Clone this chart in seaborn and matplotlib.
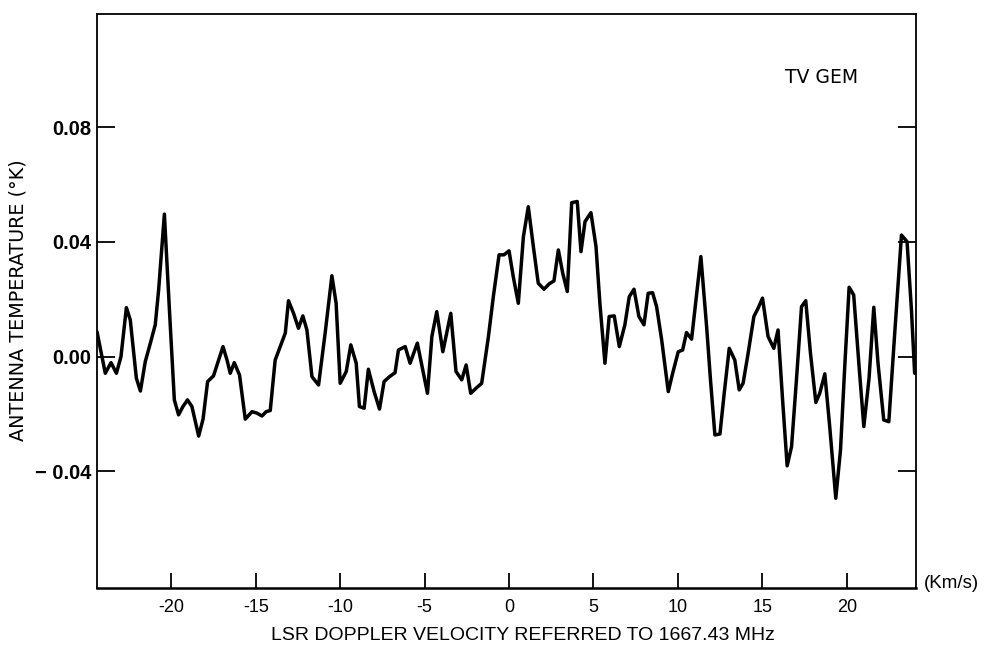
import matplotlib
matplotlib.use("Agg")
import matplotlib.pyplot as plt
import seaborn as sns
import pandas as pd

# LSR Doppler velocity (km/s)
velocity = [
    -24.40, -23.91, -23.57, -23.25, -22.98, -22.66, -22.43, -22.07, -21.83, -21.54,
    -21.24, -20.95, -20.75, -20.41, -20.10, -19.82, -19.57, -19.31, -19.04, -18.78,
    -18.38, -18.12, -17.85, -17.50, -17.20, -16.94, -16.70, -16.51, -16.27, -15.96,
    -15.62, -15.22, -14.93, -14.63, -14.38, -14.14, -13.85, -13.55, -13.25, -13.06,
    -12.76, -12.47, -12.21, -11.97, -11.67, -11.28, -10.89, -10.49, -10.24, -10.00,
    -9.64, -9.37, -9.05, -8.86, -8.58, -8.33, -7.99, -7.67, -7.40, -7.08,
    -6.75, -6.55, -6.15, -5.86, -5.43, -5.11, -4.83, -4.57, -4.28, -3.92,
    -3.45, -3.14, -2.80, -2.54, -2.27, -1.95, -1.62, -1.22, -0.93, -0.59,
    -0.30, 0.00, 0.25, 0.55, 0.85, 1.14, 1.44, 1.73, 2.07, 2.38,
    2.66, 2.92, 3.18, 3.45, 3.71, 4.04, 4.26, 4.50, 4.85, 5.15,
    5.38, 5.68, 5.93, 6.23, 6.53, 6.86, 7.12, 7.40, 7.69, 7.99,
    8.24, 8.50, 8.74, 9.04, 9.43, 9.69, 10.02, 10.28, 10.51, 10.81,
    11.36, 11.70, 11.93, 12.19, 12.49, 12.72, 13.04, 13.37, 13.63, 13.86,
    14.16, 14.50, 14.75, 15.01, 15.34, 15.68, 15.93, 16.20, 16.47, 16.73,
    17.02, 17.32, 17.57, 17.85, 18.17, 18.40, 18.70, 18.99, 19.35, 19.63,
    19.88, 20.14, 20.41, 20.73, 21.01, 21.32, 21.60, 21.85, 22.19, 22.49,
    22.84, 23.24, 23.57, 23.83, 24.02,
]

# Antenna temperature (K)
temperature = [
    0.0087, -0.0058, -0.0021, -0.0058, 0.0000, 0.0171, 0.0128, -0.0075, -0.0120, -0.0017,
    0.0047, 0.0111, 0.0233, 0.0497, 0.0151, -0.0151, -0.0203, -0.0174, -0.0151, -0.0174,
    -0.0277, -0.0218, -0.0087, -0.0067, -0.0012, 0.0035, -0.0012, -0.0058, -0.0021, -0.0064,
    -0.0218, -0.0192, -0.0197, -0.0207, -0.0192, -0.0188, -0.0012, 0.0035, 0.0082, 0.0195,
    0.0151, 0.0099, 0.0142, 0.0093, -0.0070, -0.0099, 0.0082, 0.0282, 0.0186, -0.0093,
    -0.0052, 0.0041, -0.0023, -0.0174, -0.0180, -0.0044, -0.0122, -0.0183, -0.0087, -0.0070,
    -0.0056, 0.0023, 0.0035, -0.0023, 0.0047, -0.0046, -0.0128, 0.0070, 0.0157, 0.0017,
    0.0151, -0.0052, -0.0081, -0.0029, -0.0128, -0.0110, -0.0093, 0.0070, 0.0209, 0.0355,
    0.0355, 0.0369, 0.0279, 0.0186, 0.0418, 0.0523, 0.0384, 0.0256, 0.0235, 0.0254,
    0.0264, 0.0372, 0.0291, 0.0227, 0.0537, 0.0541, 0.0366, 0.0471, 0.0502, 0.0384,
    0.0186, -0.0023, 0.0140, 0.0142, 0.0035, 0.0111, 0.0209, 0.0235, 0.0140, 0.0111,
    0.0221, 0.0223, 0.0174, 0.0058, -0.0122, -0.0058, 0.0017, 0.0023, 0.0084, 0.0061,
    0.0349, 0.0105, -0.0081, -0.0273, -0.0270, -0.0140, 0.0029, -0.0012, -0.0116, -0.0093,
    0.0012, 0.0140, 0.0169, 0.0204, 0.0070, 0.0029, 0.0093, -0.0151, -0.0381, -0.0314,
    -0.0081, 0.0174, 0.0195, 0.0012, -0.0160, -0.0128, -0.0060, -0.0244, -0.0494, -0.0325,
    -0.0035, 0.0242, 0.0215, -0.0035, -0.0244, -0.0075, 0.0172, -0.0023, -0.0221, -0.0227,
    0.0082, 0.0424, 0.0401, 0.0163, -0.0058,
]

x_ticks = [-20, -15, -10, -5, 0, 5, 10, 15, 20]
x_tick_labels = ["-20", "-15", "-10", "-5", "0", "5", "10", "15", "20"]
y_ticks = [-0.04, 0.00, 0.04, 0.08]
y_tick_labels = ["\u2212 0.04", "0.00", "0.04", "0.08"]

sns.set_style("ticks")
plt.rcParams["font.family"] = ["DejaVu Sans"]
plt.rcParams["text.color"] = "black"
plt.rcParams["xtick.color"] = "black"
plt.rcParams["ytick.color"] = "black"

df = pd.DataFrame({"velocity": velocity, "temperature": temperature})

fig = plt.figure(figsize=(9.84, 6.47), dpi=100)
ax = fig.add_axes([97 / 984, 1 - 588 / 647, (916 - 97) / 984, (588 - 14) / 647])

sns.lineplot(data=df, x="velocity", y="temperature", ax=ax, color="black",
             linewidth=2.5, sort=False, estimator=None)

ax.set_xlim(-24.4, 24.1)
ax.set_ylim(-0.0807, 0.1195)

ax.set_xticks(x_ticks)
ax.set_xticklabels(x_tick_labels, fontsize=13, color="black",
                   family=["Liberation Sans Narrow", "Liberation Sans", "DejaVu Sans"])
ax.set_yticks(y_ticks)
ax.set_yticklabels(y_tick_labels, fontsize=14.5, color="black",
                   family=["Liberation Sans", "DejaVu Sans"], fontweight="bold")

ax.tick_params(axis="x", direction="in", length=11, width=1.3, pad=8, colors="black")
ax.tick_params(axis="y", direction="in", length=13, width=1.3, pad=4, colors="black",
               right=True)

for side in ["left", "right", "top"]:
    ax.spines[side].set_linewidth(1.3)
    ax.spines[side].set_color("black")
ax.spines["bottom"].set_linewidth(1.8)
ax.spines["bottom"].set_color("black")

ax.set_xlabel("")
ax.set_ylabel("")

fig.text(18 / 984, 1 - 300 / 647, "ANTENNA TEMPERATURE (°K)", rotation=90,
         ha="center", va="center", fontsize=13.8, color="black", family=["DejaVu Sans"])
fig.text(523 / 984, 1 - 636 / 647, "LSR DOPPLER VELOCITY REFERRED TO 1667.43 MHz",
         ha="center", va="center", fontsize=14, color="black",
         family=["Liberation Sans Narrow", "Liberation Sans", "DejaVu Sans"])
fig.text(924 / 984, 1 - 584 / 647, "(Km/s)", ha="left", va="center", fontsize=13.5,
         color="black", family=["Liberation Sans Narrow", "Liberation Sans", "DejaVu Sans"])
ax.text(0.885, 0.890, "TV GEM", transform=ax.transAxes, ha="center", va="center",
        fontsize=13.5, color="black", family=["DejaVu Sans"])

fig.savefig("out.png", dpi=100, facecolor="white")
